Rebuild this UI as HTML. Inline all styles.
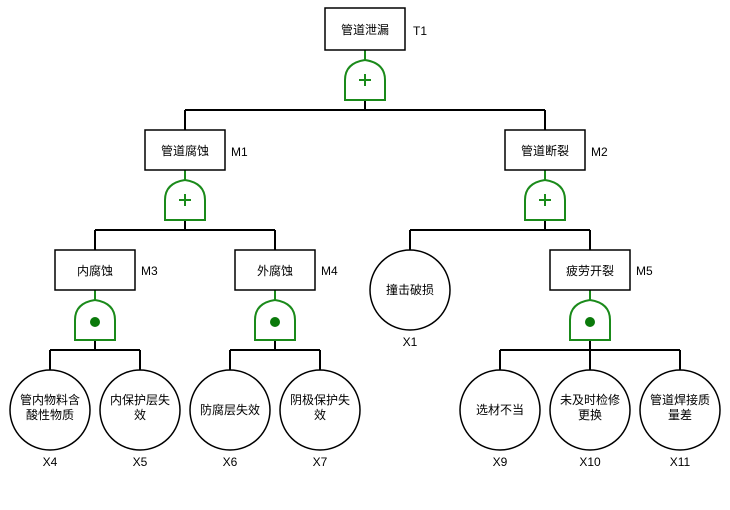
<!DOCTYPE html><html><head><style>body{margin:0;background:#fff}svg{display:block}text{font-family:"Liberation Sans","Noto Sans CJK SC",sans-serif;font-size:12px;fill:#000}</style></head><body>
<svg width="730" height="510" xmlns="http://www.w3.org/2000/svg">
<defs>
<g id="gor"><path d="M0,40 L0,20 Q0,3 20,0 Q40,3 40,20 L40,40 Z" fill="#fff" stroke="#1a8a1a" stroke-width="2"/><path d="M20,14v12M14,20h12" stroke="#1a8a1a" stroke-width="2"/></g>
<g id="gand"><path d="M0,40 L0,20 Q0,3 20,0 Q40,3 40,20 L40,40 Z" fill="#fff" stroke="#1a8a1a" stroke-width="2"/><circle cx="20" cy="22" r="5" fill="#0a7a0a"/></g>
</defs>
<g stroke="#000" stroke-width="2" fill="none">
<path d="M365,100V110M185,110H545M185,110V130M545,110V130"/>
<path d="M185,220V230M95,230H275M95,230V250M275,230V250"/>
<path d="M545,220V230M410,230H590M410,230V250M590,230V250"/>
<path d="M95,340V350M50,350H140M50,350V370M140,350V370"/>
<path d="M275,340V350M230,350H320M230,350V370M320,350V370"/>
<path d="M590,340V350M500,350H680M500,350V370M590,350V370M680,350V370"/>
</g>
<g stroke="#1a8a1a" stroke-width="2"><path d="M365,50V60M185,170V180M545,170V180M95,290V300M275,290V300M590,290V300"/></g>
<g fill="#fff" stroke="#000" stroke-width="1.5">
<rect x="325" y="8" width="80" height="42"/><rect x="145" y="130" width="80" height="40"/><rect x="505" y="130" width="80" height="40"/>
<rect x="55" y="250" width="80" height="40"/><rect x="235" y="250" width="80" height="40"/><rect x="550" y="250" width="80" height="40"/>
<circle cx="410" cy="290" r="40"/>
<circle cx="50" cy="410" r="40"/><circle cx="140" cy="410" r="40"/><circle cx="230" cy="410" r="40"/><circle cx="320" cy="410" r="40"/>
<circle cx="500" cy="410" r="40"/><circle cx="590" cy="410" r="40"/><circle cx="680" cy="410" r="40"/>
</g>
<use href="#gor" x="345" y="60"/><use href="#gor" x="165" y="180"/><use href="#gor" x="525" y="180"/>
<use href="#gand" x="75" y="300"/><use href="#gand" x="255" y="300"/><use href="#gand" x="570" y="300"/>
<g text-anchor="middle">
<text x="365" y="34">管道泄漏</text><text x="185" y="155">管道腐蚀</text><text x="545" y="155">管道断裂</text>
<text x="95" y="275">内腐蚀</text><text x="275" y="275">外腐蚀</text><text x="590" y="275">疲劳开裂</text>
<text x="410" y="294">撞击破损</text>
<text x="50" y="404">管内物料含</text><text x="50" y="419">酸性物质</text>
<text x="140" y="404">内保护层失</text><text x="140" y="419">效</text>
<text x="230" y="414">防腐层失效</text>
<text x="320" y="404">阴极保护失</text><text x="320" y="419">效</text>
<text x="500" y="414">选材不当</text>
<text x="590" y="404">未及时检修</text><text x="590" y="419">更换</text>
<text x="680" y="404">管道焊接质</text><text x="680" y="419">量差</text>
<text x="410" y="346">X1</text><text x="50" y="466">X4</text><text x="140" y="466">X5</text><text x="230" y="466">X6</text><text x="320" y="466">X7</text>
<text x="500" y="466">X9</text><text x="590" y="466">X10</text><text x="680" y="466">X11</text>
</g>
<text x="413" y="35">T1</text><text x="231" y="156">M1</text><text x="591" y="156">M2</text>
<text x="141" y="275">M3</text><text x="321" y="275">M4</text><text x="636" y="275">M5</text>
</svg></body></html>
